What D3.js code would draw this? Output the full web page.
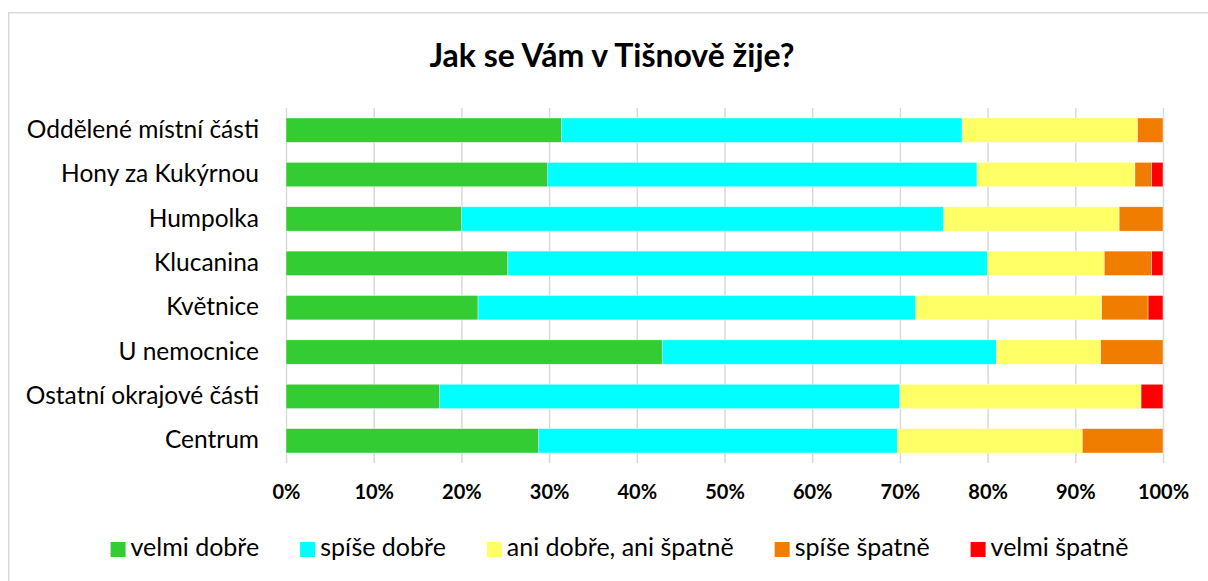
<!DOCTYPE html>
<html>
<head>
<meta charset="utf-8">
<script src="https://cdn.jsdelivr.net/npm/d3@7"></script>
<style>
  html, body { margin: 0; padding: 0; background: #fff; }
</style>
</head>
<body>
<div id="chart"></div>
<script>
// Jak se Vám v Tišnově žije?  (100% stacked horizontal bars)

const CATEGORIES = [
  "Oddělené místní části",
  "Hony za Kukýrnou",
  "Humpolka",
  "Klucanina",
  "Květnice",
  "U nemocnice",
  "Ostatní okrajové části",
  "Centrum",
];
const SERIES = ["velmi dobře", "spíše dobře", "ani dobře, ani špatně", "spíše špatně", "velmi špatně"];
const COLORS = ["#33cc33", "#00ffff", "#ffff66", "#f07c00", "#ff0000"];

// shares in % per category
const VELMI_DOBRE  = [31.4, 29.8, 20.0, 25.3, 21.9, 42.9, 17.5, 28.8];
const SPISE_DOBRE  = [45.7, 49.0, 55.0, 54.7, 49.9, 38.1, 52.5, 40.9];
const ANI_ANI      = [20.0, 18.0, 20.0, 13.3, 21.2, 11.9, 27.5, 21.1];
const SPISE_SPATNE = [ 2.9,  1.9,  5.0,  5.4,  5.3,  7.1,  0.0,  9.2];
const VELMI_SPATNE = [ 0.0,  1.3,  0.0,  1.3,  1.7,  0.0,  2.5,  0.0];
const TICKS = [0, 10, 20, 30, 40, 50, 60, 70, 80, 90, 100];

const VALUES = [VELMI_DOBRE, SPISE_DOBRE, ANI_ANI, SPISE_SPATNE, VELMI_SPATNE];

const rows = CATEGORIES.map((c, i) => {
  const r = { category: c };
  SERIES.forEach((s, k) => { r[s] = VALUES[k][i]; });
  return r;
});

const FONT = "Lato, 'Open Sans', sans-serif";
const totalW = 1208, totalH = 581;
const plot = { left: 286, right: 1163, top: 108, bottom: 463 };

const svg = d3.select("#chart").append("svg")
  .attr("width", totalW).attr("height", totalH)
  .style("display", "block");

/* ── Chart frame ── */
svg.append("rect")
  .attr("x", 8.75).attr("y", 12.75)
  .attr("width", 1210).attr("height", 600)
  .attr("fill", "#fff").attr("stroke", "#d9d9d9").attr("stroke-width", 1.5);

/* ── Scales ── */
const x = d3.scaleLinear().domain([0, 100]).range([plot.left, plot.right]);
const y = d3.scaleBand().domain(CATEGORIES).range([plot.top, plot.bottom])
  .paddingInner(0.45).paddingOuter(0.225);

/* ── Grid ── */
svg.append("g")
  .attr("transform", `translate(0,${plot.bottom})`)
  .call(d3.axisBottom(x).tickValues(TICKS).tickSize(-(plot.bottom - plot.top)).tickFormat(""))
  .call(ax => {
    ax.select(".domain").remove();
    ax.selectAll("line").attr("stroke", "#d9d9d9").attr("stroke-width", 1.5);
  });

/* ── Bars ── */
const stacked = d3.stack().keys(SERIES)(rows);
svg.append("g").selectAll("g")
  .data(stacked)
  .join("g")
  .attr("fill", (d, i) => COLORS[i])
  .selectAll("rect")
  .data(d => d)
  .join("rect")
  .attr("x", d => x(d[0]))
  .attr("y", d => y(d.data.category))
  .attr("width", d => x(d[1]) - x(d[0]))
  .attr("height", y.bandwidth())
  .attr("stroke", "#ffffff")
  .attr("stroke-width", 0.6)
  .attr("stroke-opacity", 0.7);

/* ── Category axis ── */
svg.append("g")
  .attr("transform", `translate(${plot.left},0)`)
  .call(d3.axisLeft(y).tickSize(0).tickPadding(27))
  .call(ax => ax.select(".domain").remove())
  .selectAll("text")
  .attr("font-family", FONT)
  .attr("font-size", 24.5)
  .attr("fill", "#000")
  .attr("dy", "0.31em");

/* ── Value axis ── */
svg.append("g")
  .attr("transform", `translate(0,${plot.bottom})`)
  .call(d3.axisBottom(x).tickValues(TICKS).tickSize(0).tickPadding(22).tickFormat(d => d + "%"))
  .call(ax => ax.select(".domain").remove())
  .selectAll("text")
  .attr("font-family", FONT)
  .attr("font-size", 20)
  .attr("font-weight", "bold")
  .attr("fill", "#000");

/* ── Title ── */
svg.append("text")
  .attr("x", 612).attr("y", 67)
  .attr("text-anchor", "middle")
  .attr("font-family", FONT)
  .attr("font-size", 32)
  .attr("font-weight", "bold")
  .attr("fill", "#000")
  .text("Jak se Vám v Tišnově žije?");

/* ── Legend ── */
const GAP = 41;
const legend = svg.append("g").attr("transform", "translate(0,557)");
const items = legend.selectAll("g").data(SERIES).join("g");
items.append("rect")
  .attr("y", -15).attr("width", 15).attr("height", 15)
  .attr("fill", (d, i) => COLORS[i]);
items.append("text")
  .attr("x", 20).attr("y", -1)
  .attr("font-family", FONT)
  .attr("font-size", 25)
  .attr("fill", "#000")
  .text(d => d);

let cursor = 0;
const offsets = [];
items.each(function () {
  const w = 20 + d3.select(this).select("text").node().getComputedTextLength();
  offsets.push(cursor);
  cursor += w + GAP;
});
const legendW = cursor - GAP;
const start = 619.5 - legendW / 2;
items.attr("transform", (d, i) => `translate(${start + offsets[i]},0)`);
</script>
</body>
</html>
